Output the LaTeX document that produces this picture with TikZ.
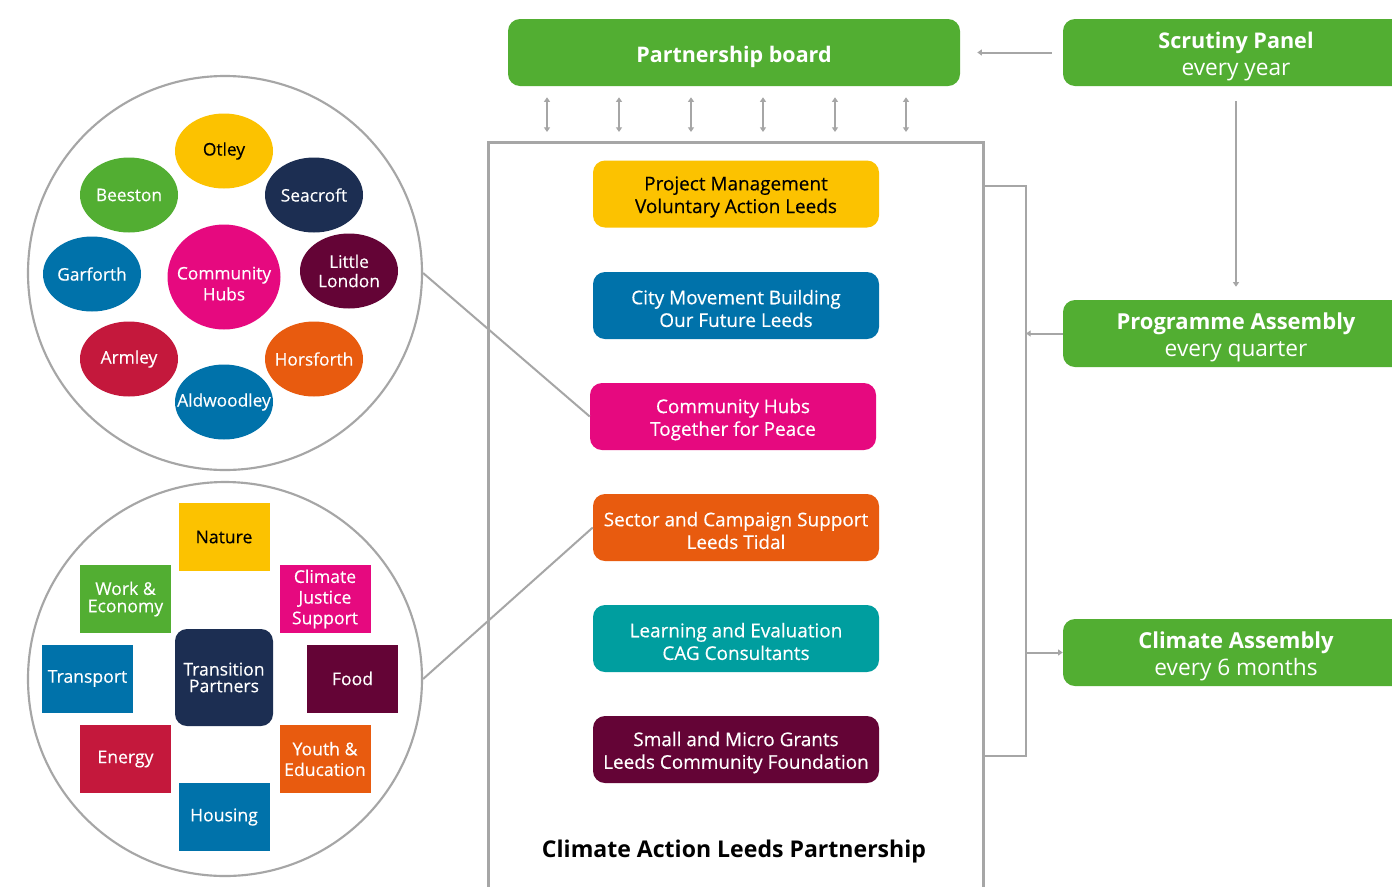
\documentclass[tikz,border=0pt]{standalone}
\usepackage{fontspec}
\setmainfont{Open Sans}
\newfontfamily\medf{Open Sans}[FakeBold=0.35]
\usetikzlibrary{arrows.meta,shapes.geometric}
\newlength\pxu \setlength\pxu{0.75pt}
\definecolor{cgreen}{RGB}{82,174,50}
\definecolor{cyellow}{RGB}{252,194,0}
\definecolor{cblue}{RGB}{0,114,170}
\definecolor{cpink}{RGB}{230,9,127}
\definecolor{corange}{RGB}{232,91,15}
\definecolor{cteal}{RGB}{0,158,159}
\definecolor{cmaroon}{RGB}{100,4,54}
\definecolor{cnavy}{RGB}{28,46,82}
\definecolor{cred}{RGB}{196,24,60}
\definecolor{cgray}{RGB}{166,166,166}
\tikzset{
  gbox/.style={rectangle, rounded corners=9pt, fill=cgreen, minimum height=67\pxu, inner sep=0pt},
  gtext/.style={text=white, align=center, inner sep=0pt, yshift=-3pt, font=\fontsize{17}{20.5}\selectfont},
  ibox/.style={rectangle, rounded corners=9pt, minimum width=286\pxu, minimum height=67\pxu, inner sep=0pt},
  itext/.style={text=white, align=center, inner sep=0pt, yshift=-2.25pt, font=\medf\fontsize{14.2}{17}\selectfont},
  hub/.style={ellipse, minimum width=98\pxu, minimum height=75\pxu, inner sep=0pt},
  htext/.style={text=white, align=center, inner sep=0pt, font=\medf\fontsize{13}{14.5}\selectfont},
  sq/.style={rectangle, minimum width=91\pxu, minimum height=68\pxu, text=white, inner sep=0pt, align=center, font=\medf\fontsize{13.2}{15.5}\selectfont},
  conn/.style={draw=cgray, line width=1.5pt},
  arr/.style={draw=cgray, line width=1.5pt, -{Triangle[width=4.5pt,length=3.5pt]}},
  darr/.style={draw=cgray, line width=1.5pt, {Triangle[width=4.5pt,length=3.5pt]}-{Triangle[width=4.5pt,length=3.5pt]}},
  bigcirc/.style={circle, draw=cgray, line width=1.6pt, minimum size=394\pxu, inner sep=0pt}
}
\begin{document}
\begin{tikzpicture}[x=0.75pt,y=-0.75pt]
\clip (0,0) rectangle (1392,886);
\fill[white] (0,0) rectangle (1392,886);

% top
\node[gbox, minimum width=452\pxu, label={[gtext, yshift=-0.5pt, font=\bfseries\fontsize{16.1}{19}\selectfont]center:Partnership board}] (pb) at (734,52.5) {};
\node[gbox, minimum width=346\pxu, label={[gtext]center:{\bfseries\fontsize{16.2}{20.5}\selectfont Scrutiny Panel}\\every year}] (sp) at (1236,52.5) {};
\node[gbox, minimum width=346\pxu, label={[gtext]center:{\bfseries\fontsize{16.5}{20.5}\selectfont Programme Assembly}\\every quarter}] (pa) at (1236,333.5) {};
\node[gbox, minimum width=346\pxu, label={[gtext]center:{\bfseries\fontsize{16.5}{20.5}\selectfont Climate Assembly}\\every 6 months}] (ca) at (1236,652.5) {};

% main box
\node[draw=cgray, line width=1.9pt, minimum width=495\pxu, minimum height=780\pxu, anchor=north west, inner sep=0pt] (cal) at (487,141) {};
\node[font=\bfseries\fontsize{17.3}{20}\selectfont] (caltitle) at (734,851) {Climate Action Leeds Partnership};

\node[ibox, fill=cyellow, label={[itext, text=black]center:Project Management\\Voluntary Action Leeds}] (pm) at (736,194) {};
\node[ibox, fill=cblue, label={[itext]center:City Movement Building\\Our Future Leeds}] (cmb) at (736,305.5) {};
\node[ibox, fill=cpink, label={[itext]center:Community Hubs\\Together for Peace}] (chp) at (733,416.5) {};
\node[ibox, fill=corange, label={[itext]center:Sector and Campaign Support\\Leeds Tidal}] (scs) at (736,527.5) {};
\node[ibox, fill=cteal, label={[itext]center:Learning and Evaluation\\CAG Consultants}] (le) at (736,638.5) {};
\node[ibox, fill=cmaroon, label={[itext]center:Small and Micro Grants\\Leeds Community Foundation}] (smg) at (736,749.5) {};

% double arrows
\foreach \x in {547,619,691,763,835,906}
  \draw[darr, shorten <=8.25pt, shorten >=6.75pt] (pb.south -| \x,0) -- (cal.north -| \x,0);

% scrutiny arrows
\draw[arr, shorten <=8.25pt, shorten >=12.75pt] (sp.west) -- (pb.east);
\draw[arr, shorten <=11.25pt, shorten >=9.75pt] (sp.south) -- (pa.north);

% bracket
\coordinate (bt) at (1026,186);
\coordinate (bb) at (1026,756);
\draw[conn] (cal.north east |- bt) -- (bt) -- (bb) -- (cal.north east |- bb);
\draw[arr] (pa.west) -- (pa.west -| bt);
\draw[arr] (ca.west -| bt) -- (ca.west);

% circle 1
\node[bigcirc] (c1) at (225,273) {};
\node[hub, fill=cyellow, label={[htext, text=black]center:Otley}] (otley) at (224,151) {};
\node[hub, fill=cgreen, label={[htext]center:Beeston}] (beeston) at (129,195) {};
\node[hub, fill=cnavy, label={[htext]center:Seacroft}] (seacroft) at (314,195) {};
\node[hub, fill=cblue, label={[htext]center:Garforth}] (garforth) at (92,274) {};
\node[hub, fill=cpink, minimum width=113\pxu, minimum height=105\pxu, label={[htext, yshift=-5pt, font=\medf\fontsize{13}{15.75}\selectfont]center:Community\\Hubs}] (hubs) at (224,277) {};
\node[hub, fill=cmaroon, label={[htext]center:Little\\London}] (little) at (349,271) {};
\node[hub, fill=cred, label={[htext]center:Armley}] (armley) at (129,359) {};
\node[hub, fill=corange, label={[htext]center:Horsforth}] (horsforth) at (314,359) {};
\node[hub, fill=cblue, label={[htext]center:Aldwoodley}] (aldwoodley) at (224,402) {};

% circle 2
\node[bigcirc] (c2) at (225,679) {};
\node[sq, fill=cyellow, text=black] (nature) at (224,537) {Nature};
\node[sq, fill=cgreen, font=\medf\fontsize{13.2}{13}\selectfont] (work) at (125.5,599) {Work \&\\Economy};
\node[sq, fill=cpink] (cjs) at (325,599) {Climate\\Justice\\Support};
\node[sq, fill=cblue] (transport) at (87.5,678.5) {Transport};
\node[sq, fill=cnavy, rounded corners=9pt, minimum width=98\pxu, minimum height=97\pxu, font=\medf\fontsize{13.2}{12.5}\selectfont] (tp) at (224,677.5) {Transition\\Partners};
\node[sq, fill=cmaroon] (food) at (352.5,678.5) {Food};
\node[sq, fill=cred] (energy) at (125.5,759) {Energy};
\node[sq, fill=corange] (youth) at (325,759) {Youth \&\\Education};
\node[sq, fill=cblue] (housing) at (224,817) {Housing};

% links
\draw[conn] (c1.east) -- (chp.west);
\draw[conn] (c2.east) -- (scs.west);
\end{tikzpicture}
\end{document}
